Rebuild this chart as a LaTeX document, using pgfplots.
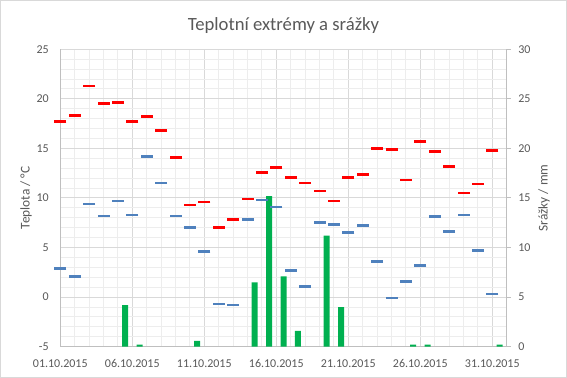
\documentclass[border=0pt]{standalone}
\usepackage{pgfplots}
\pgfplotsset{compat=1.18}
\usepackage{pgfplotstable}
\usepackage{fontspec}
\setmainfont{Carlito}
\definecolor{txtgray}{HTML}{595959}
\definecolor{axgray}{HTML}{BFBFBF}
\definecolor{majgrid}{HTML}{D9D9D9}
\definecolor{mingrid}{HTML}{EDEDED}
\definecolor{tmaxc}{HTML}{FF0000}
\definecolor{tminc}{HTML}{4F81BD}
\definecolor{rainc}{HTML}{00B050}
% day: 1..31 (October 2015)
\pgfplotstableread{
day tmax tmin
1 17.7 2.9
2 18.3 2.1
3 21.3 9.4
4 19.5 8.2
5 19.6 9.7
6 17.7 8.3
7 18.2 14.2
8 16.8 11.5
9 14.1 8.2
10 9.3 7.0
11 9.6 4.6
12 7.0 -0.7
13 7.8 -0.8
14 9.9 7.8
15 12.6 9.8
16 13.1 9.1
17 12.1 2.7
18 11.5 1.1
19 10.7 7.5
20 9.7 7.3
21 12.1 6.5
22 12.4 7.2
23 15.0 3.6
24 14.9 -0.1
25 11.8 1.6
26 15.7 3.2
27 14.7 8.1
28 13.2 6.6
29 10.5 8.3
30 11.4 4.7
31 14.8 0.3
}\temps
\pgfplotstableread{
day rain
5 4.2
6 0.2
10 0.6
14 6.5
15 15.2
16 7.1
17 1.6
19 11.2
20 4.0
25 0.2
26 0.2
31 0.2
}\rain
\begin{document}
\begin{tikzpicture}
\useasboundingbox (0,0) rectangle (425.25pt,283.5pt);
\fill[white] (0,0) rectangle (425.25pt,283.5pt);
\draw[majgrid, line width=0.75pt] (0.375pt,0.375pt) rectangle (424.875pt,283.125pt);
\node[anchor=base, font=\fontsize{14}{16}\selectfont, text=txtgray] at (212.6pt,260.5pt) {Teplotní extrémy a srážky};
\pgfplotsset{common/.style={
  scale only axis, width=334.8pt, height=223.05pt,
  at={(45.225pt,23.475pt)}, anchor=south west,
  xmin=0, xmax=31,
  tick label style={font=\fontsize{9}{10}\selectfont, text=txtgray},
  /pgf/number format/assume math mode=true,
}}
% axis 1: grid, left axis, date labels
\begin{axis}[common, ymin=-5, ymax=25,
  axis x line*=bottom, axis y line*=left,
  axis line style={axgray, line width=0.75pt},
  ytick={-5,0,...,25}, minor ytick={-4,...,24},
  xtick={0,5,...,30}, minor xtick={1,...,31},
  xticklabels={01.10.2015,06.10.2015,11.10.2015,16.10.2015,21.10.2015,26.10.2015,31.10.2015},
  grid=both,
  major grid style={majgrid, line width=0.75pt},
  minor grid style={mingrid, line width=0.75pt},
  major tick length=0pt, minor tick length=0pt,
  yticklabel style={anchor=east, inner sep=0pt, xshift=-8.5pt},
  xticklabel style={anchor=north, inner sep=0pt, yshift=-9.5pt},
  ylabel={Teplota / °C},
  every axis y label/.style={at={(axis description cs:-0.0768,0.5)}, rotate=90, anchor=center,
    font=\fontsize{10}{12}\selectfont, text=txtgray},
]
\end{axis}
% axis 2: precipitation bars, right axis
\begin{axis}[common, ymin=0, ymax=30,
  axis x line=none, axis y line*=right,
  axis line style={axgray, line width=0.75pt},
  ytick={0,5,...,30},
  tick style={axgray, line width=0.75pt},
  major tick length=3pt, tick align=outside,
  yticklabel style={anchor=west, inner sep=0pt, xshift=5.5pt},
  ylabel={Srážky / mm},
  every axis y label/.style={at={(axis description cs:1.0836,0.5)}, rotate=90, anchor=center,
    font=\fontsize{10}{12}\selectfont, text=txtgray},
]
\addplot[ybar, bar width=4.5pt, bar shift=0pt, fill=rainc, draw=none]
  table[x expr=\thisrow{day}-0.5, y=rain] {\rain};
\end{axis}
% axis 3: temperature extremes
\begin{axis}[common, ymin=-5, ymax=25, hide axis, clip=false]
\addplot[only marks, mark=-, mark size=4.5pt, mark options={draw=tmaxc, line width=2pt}]
  table[x expr=\thisrow{day}-1, y=tmax] {\temps};
\addplot[only marks, mark=-, mark size=4.5pt, mark options={draw=tminc, line width=2pt}]
  table[x expr=\thisrow{day}-1, y=tmin] {\temps};
\end{axis}
\end{tikzpicture}
\end{document}
